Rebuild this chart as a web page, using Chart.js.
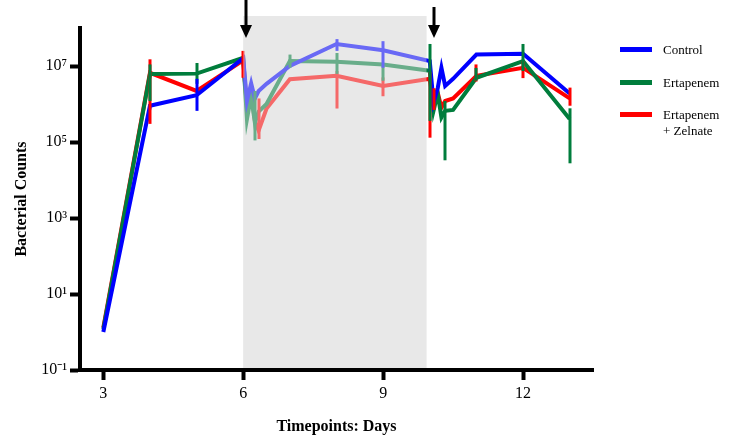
<!DOCTYPE html>
<html>
<head>
<meta charset="utf-8">
<title>Bacterial counts</title>
<script src="https://cdn.jsdelivr.net/npm/chart.js@4.4.1/dist/chart.umd.min.js"></script>
<style>
  html, body { margin: 0; padding: 0; background: #fff; }
  #wrap { position: relative; width: 730px; height: 440px; }
  #legend { position: absolute; left: 0; top: 0; font-family: "Liberation Serif", "Times New Roman", serif; font-size: 13px; color: #000; }
  .swatch { position: absolute; width: 32px; height: 5px; }
  .label { position: absolute; line-height: 15px; white-space: nowrap; }
</style>
</head>
<body>
<div id="wrap">
  <canvas id="chart" width="730" height="440"></canvas>
  <div id="legend"></div>
</div>
<script>
// sampling times (days); extra points right after each dose
const days = [3, 4, 5, 6, 6.08, 6.17, 6.25, 6.33, 6.5, 7, 8, 9, 10, 10.08, 10.17, 10.25, 10.33, 10.5, 11, 12, 13];

// mean counts per group
const control   = [1, 9e5, 1.7e6, 1.6e7, 1.2e6, 3.5e6, 1.4e6, 2.2e6, 3.4e6, 1e7, 3.8e7, 2.6e7, 1.35e7, 1.1e6, 2.6e6, 9e6, 3e6, 4.6e6, 2e7, 2.1e7, 1.9e6];
const ertapenem = [1.2, 6.2e6, 6.3e6, 1.65e7, 4e5, 1.6e6, 3.2e5, 6.3e5, 1e6, 1.35e7, 1.3e7, 1.1e7, 7.5e6, 6.6e5, 1.9e6, 4.4e5, 6.6e5, 7e5, 4.9e6, 1.35e7, 4e5];
const ertaZel   = [1.3, 6.6e6, 2.2e6, 1.4e7, 8e5, 2e6, 3.6e5, 2e5, 7.6e5, 4.5e6, 5.5e6, 3e6, 4.6e6, 1e6, 2e6, 8e5, 1.2e6, 1.4e6, 5.5e6, 9e6, 1.4e6];

// error ranges [low, high], null where no bar
const controlErr = [null, null, [6.6e5, 4.6e6], null, null, null, null, null, null, null,
  [2.5e7, 5.1e7], [9e6, 4.5e7], null, null, null, null, null, null, null, null, null];
const ertapenemErr = [null, [1.2e6, 1.1e7], [3.4e6, 1.2e7], null, null, null, [1.1e5, 2.2e6], null, null, [9e6, 2e7],
  [6.2e6, 2.2e7], [4.1e6, 1.1e7], [3.6e5, 3.8e7], null, null, null, [3.3e4, 1.2e6], null, [4.1e6, 8.9e6], [7.4e6, 3.8e7], [2.75e4, 7.7e5]];
const ertaZelErr = [null, [3e5, 1.5e7], null, [4.9e6, 2.5e7], null, null, null, [1.2e5, 1.4e6], null, null,
  [7.6e5, 7.4e6], [1.6e6, 5e6], [1.3e5, 7e6], [7e5, 2.6e6], null, null, null, null, [3.9e6, 1.1e7], [4.8e6, 1.35e7], [9e5, 2.7e6]];

const seriesNames = ['Control', 'Ertapenem', 'Ertapenem\n+ Zelnate'];
const seriesColors = ['#0000ff', '#007d3c', '#ff0000'];

const xTicks = [3, 6, 9, 12];
const yTicks = [0.1, 10, 1e3, 1e5, 1e7];
const treatmentWindow = [6, 9.93];
const doseDays = [6.05, 10.08];

const SUP = { '-': '⁻', '0': '⁰', '1': '¹', '2': '²', '3': '³', '4': '⁴', '5': '⁵', '6': '⁶', '7': '⁷', '8': '⁸', '9': '⁹' };
const pow10 = v => '10' + String(Math.round(Math.log10(v))).split('').map(c => SUP[c]).join('');

const serif = '"Liberation Serif", "Times New Roman", serif';

// grey treatment window, error bars, light wash over the window, dose arrows
const annotations = {
  id: 'annotations',
  beforeDatasetsDraw(chart) {
    const { ctx, chartArea, scales: { x } } = chart;
    const x0 = x.getPixelForValue(treatmentWindow[0]);
    const x1 = x.getPixelForValue(treatmentWindow[1]);
    ctx.save();
    ctx.fillStyle = '#e8e8e8';
    ctx.fillRect(x0, chartArea.top - 12, x1 - x0, chartArea.bottom - chartArea.top + 10);
    ctx.restore();
  },
  afterDatasetsDraw(chart) {
    const { ctx, chartArea, scales: { x, y } } = chart;
    const errs = [controlErr, ertapenemErr, ertaZelErr];
    ctx.save();
    ctx.beginPath();
    ctx.rect(chartArea.left, chartArea.top, chartArea.right - chartArea.left, chartArea.bottom - chartArea.top);
    ctx.clip();
    for (let d = errs.length - 1; d >= 0; d--) {
      ctx.strokeStyle = seriesColors[d];
      ctx.lineWidth = 3;
      errs[d].forEach((e, i) => {
        if (!e) return;
        const px = Math.round(x.getPixelForValue(days[i]));
        ctx.beginPath();
        ctx.moveTo(px, y.getPixelForValue(e[0]));
        ctx.lineTo(px, y.getPixelForValue(e[1]));
        ctx.stroke();
      });
    }
    ctx.restore();

    const x0 = x.getPixelForValue(treatmentWindow[0]);
    const x1 = x.getPixelForValue(treatmentWindow[1]);
    ctx.save();
    ctx.fillStyle = 'rgba(232,232,232,0.45)';
    ctx.fillRect(x0, chartArea.top - 12, x1 - x0, chartArea.bottom - chartArea.top + 10);
    ctx.restore();
  },
  afterDraw(chart) {
    const { ctx, scales: { x } } = chart;
    ctx.save();
    ctx.fillStyle = '#000';
    ctx.strokeStyle = '#000';
    ctx.lineWidth = 3;
    doseDays.forEach((d, i) => {
      const px = Math.round(x.getPixelForValue(d));
      const top = i === 0 ? 0 : 7;
      ctx.beginPath();
      ctx.moveTo(px, top);
      ctx.lineTo(px, 28);
      ctx.stroke();
      ctx.beginPath();
      ctx.moveTo(px - 6, 25);
      ctx.lineTo(px + 6, 25);
      ctx.lineTo(px, 38);
      ctx.closePath();
      ctx.fill();
    });
    ctx.restore();
  }
};

const groups = [control, ertapenem, ertaZel];

new Chart(document.getElementById('chart'), {
  type: 'line',
  data: {
    datasets: groups.map((vals, k) => ({
      label: seriesNames[k],
      data: days.map((d, i) => ({ x: d, y: vals[i] })),
      borderColor: seriesColors[k],
      backgroundColor: seriesColors[k],
      borderWidth: 4,
      pointRadius: 0,
      tension: 0,
      fill: false
    }))
  },
  options: {
    responsive: false,
    animation: false,
    layout: { padding: { top: 28, right: 137, left: 0, bottom: 0 } },
    plugins: { legend: { display: false }, tooltip: { enabled: false } },
    scales: {
      x: {
        type: 'linear',
        min: 2.5,
        max: 13.5,
        afterBuildTicks: s => { s.ticks = xTicks.map(v => ({ value: v })); },
        afterFit: s => { s.height = 70; },
        ticks: { color: '#000', font: { family: serif, size: 16 }, padding: 4 },
        grid: { drawOnChartArea: false, tickLength: 10, tickWidth: 4, tickColor: '#000' },
        border: { color: '#000', width: 4 },
        title: { display: true, text: 'Timepoints: Days', color: '#000', font: { family: serif, size: 16, weight: 'bold' }, padding: { top: 12 } }
      },
      y: {
        type: 'logarithmic',
        min: 0.1,
        max: 1e8,
        afterBuildTicks: s => { s.ticks = yTicks.map(v => ({ value: v })); },
        afterFit: s => { s.width = 80; },
        ticks: { color: '#000', font: { family: serif, size: 16 }, padding: 3, callback: v => pow10(v) },
        grid: { drawOnChartArea: false, tickLength: 10, tickWidth: 4, tickColor: '#000' },
        border: { color: '#000', width: 4 },
        title: { display: true, text: 'Bacterial Counts', color: '#000', font: { family: serif, size: 16, weight: 'bold' }, padding: { top: 12, bottom: 4 } }
      }
    }
  },
  plugins: [annotations]
});

// legend at the right
const legend = document.getElementById('legend');
const legendRows = [49, 82, 114];
seriesNames.forEach((name, k) => {
  const sw = document.createElement('div');
  sw.className = 'swatch';
  sw.style.background = seriesColors[k];
  sw.style.left = '620px';
  sw.style.top = (legendRows[k] - 2.5) + 'px';
  legend.appendChild(sw);
  name.split('\n').forEach((line, j) => {
    const lb = document.createElement('div');
    lb.className = 'label';
    lb.textContent = line;
    lb.style.left = '663px';
    lb.style.top = (legendRows[k] - 7.5 + j * 16) + 'px';
    legend.appendChild(lb);
  });
});
</script>
</body>
</html>
